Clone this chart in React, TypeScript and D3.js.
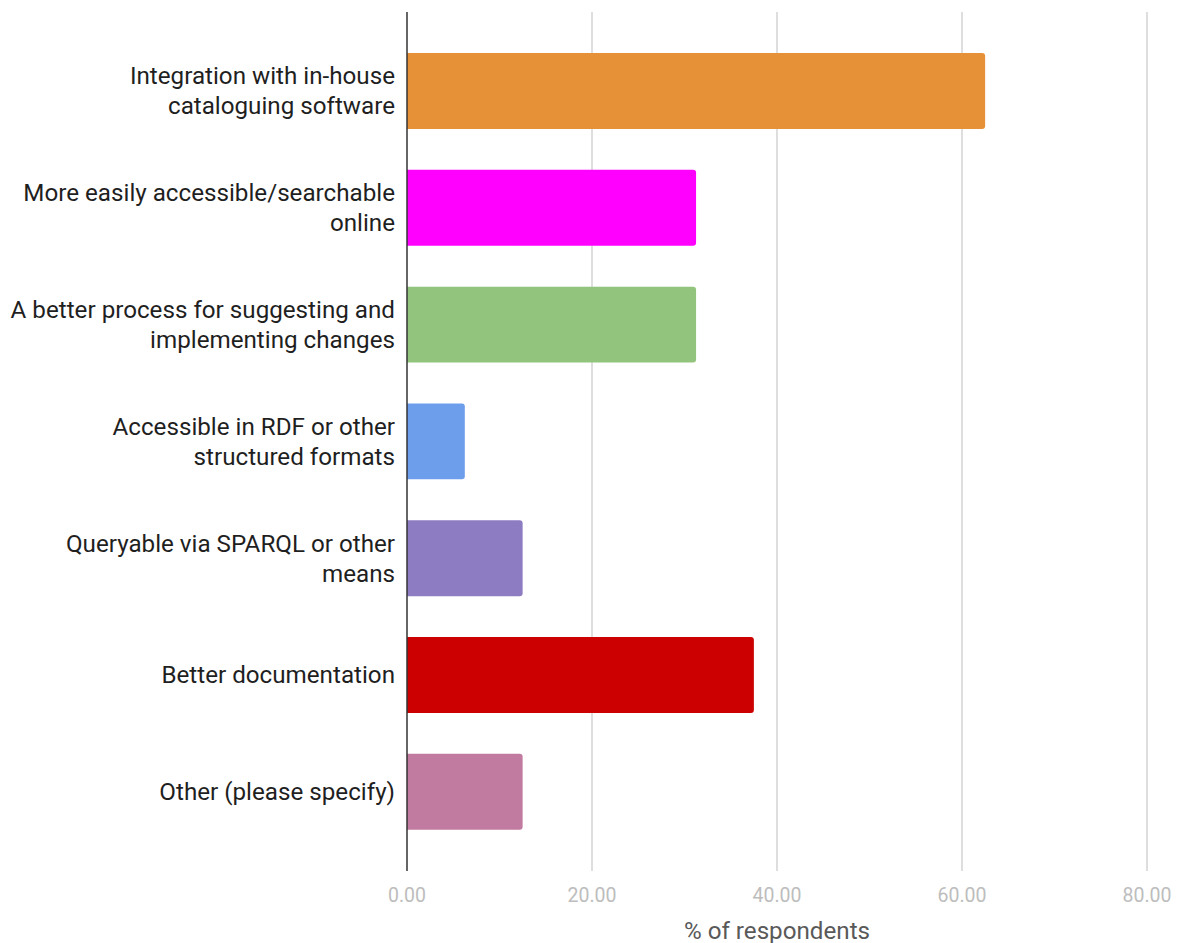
import React from "react";
import * as d3 from "d3";

const categories: string[][] = [
  ["Integration with in-house", "cataloguing software"],
  ["More easily accessible/searchable", "online"],
  ["A better process for suggesting and", "implementing changes"],
  ["Accessible in RDF or other", "structured formats"],
  ["Queryable via SPARQL or other", "means"],
  ["Better documentation"],
  ["Other (please specify)"],
];
const values: number[] = [62.5, 31.25, 31.25, 6.25, 12.5, 37.5, 12.5];
const colors: string[] = ["#e69138", "#ff00ff", "#93c47d", "#6d9eeb", "#8e7cc3", "#cc0000", "#c27ba0"];
const ticks: number[] = [0, 20, 40, 60, 80];
const xTitle = "% of respondents";

export default function App() {
  const W = 1177, H = 943;
  const x = d3.scaleLinear().domain([0, 80]).range([407, 1147]);
  const ids = categories.map((_, i) => String(i));
  const y = d3.scaleBand().domain(ids).range([32.6, 850.2]).paddingInner(0.35).paddingOuter(0.175);
  const top = 12, bottom = 871;
  const font = "Roboto, 'Noto Sans', sans-serif";
  const r = 3;
  const barPath = (x0: number, x1: number, y0: number, h: number) => {
    const rr = Math.min(r, (x1 - x0) / 2);
    return `M${x0},${y0}H${x1 - rr}Q${x1},${y0} ${x1},${y0 + rr}V${y0 + h - rr}Q${x1},${y0 + h} ${x1 - rr},${y0 + h}H${x0}Z`;
  };
  return (
    <svg width={W} height={H} style={{ position: "absolute", left: 0, top: 0, background: "#fff" }} fontFamily={font}>
      {ticks.map((t) => (
        <g key={t}>
          {t !== 0 && <line x1={x(t)} x2={x(t)} y1={top} y2={bottom} stroke="#cccccc" strokeWidth={1.3} />}
          <text x={x(t)} y={895} dy="0.35em" textAnchor="middle" fontSize={19.5} fill="#bdbdbd">
            {t.toFixed(2)}
          </text>
        </g>
      ))}
      {values.map((v, i) => {
        const y0 = y(String(i))!;
        const h = y.bandwidth();
        return <path key={i} d={barPath(x(0), x(v), y0, h)} fill={colors[i]} />;
      })}
      <line x1={x(0)} x2={x(0)} y1={top} y2={bottom} stroke="#333" strokeWidth={1.5} />
      {categories.map((lines, i) => {
        const cy = y(String(i))! + y.bandwidth() / 2;
        const lh = 30;
        const start = cy - ((lines.length - 1) * lh) / 2;
        return (
          <text key={i} x={395} textAnchor="end" fontSize={24.2} fill="#1f1f1f">
            {lines.map((ln, j) => (
              <tspan key={j} x={395} y={start + j * lh} dy="0.35em">
                {ln}
              </tspan>
            ))}
          </text>
        );
      })}
      <text x={777} y={931} dy="0.35em" textAnchor="middle" fontSize={24.2} fill="#595959">
        {xTitle}
      </text>
    </svg>
  );
}
